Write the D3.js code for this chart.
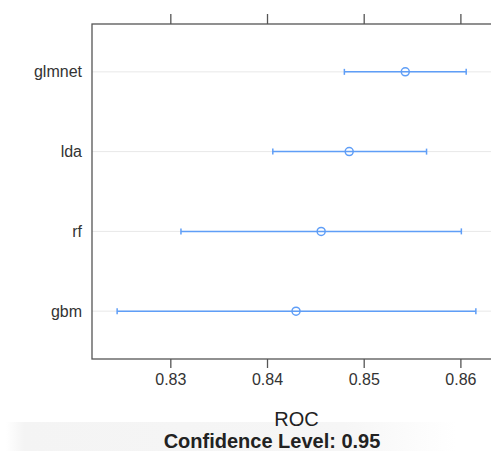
<!DOCTYPE html>
<html>
<head>
<meta charset="utf-8">
<script src="https://cdn.jsdelivr.net/npm/d3@7"></script>
<style>
	html, body { margin: 0; padding: 0; background: #fff; }
	svg { display: block; font-family: "Liberation Sans", Arial, Helvetica, sans-serif; }
</style>
</head>
<body>
<div id="chart"></div>
<script>
// model names, top to bottom
const models = ["glmnet", "lda", "rf", "gbm"];
// ROC estimate and 95% confidence bounds
const rocMean = [0.8543, 0.8485, 0.8456, 0.8430];
const rocLower = [0.8480, 0.8406, 0.8311, 0.8245];
const rocUpper = [0.8606, 0.8565, 0.8601, 0.8616];
const xTicks = [0.83, 0.84, 0.85, 0.86];

const width = 491, height = 451;
const panel = { left: 92, top: 24, right: 501, bottom: 359 };
const blue = "#5f9ef7";

const svg = d3.select("#chart")
	.append("svg")
	.attr("width", width)
	.attr("height", height);

// faint grey band behind the footer text (from the screenshot)
const defs = svg.append("defs");
const grad = defs.append("linearGradient")
	.attr("id", "band");
grad.append("stop").attr("offset", "0%").attr("stop-color", "#ffffff");
grad.append("stop").attr("offset", "4%").attr("stop-color", "#f4f4f4");
grad.append("stop").attr("offset", "75%").attr("stop-color", "#f6f6f6");
grad.append("stop").attr("offset", "100%").attr("stop-color", "#ffffff");
svg.append("rect")
	.attr("x", 6)
	.attr("y", 422)
	.attr("width", 450)
	.attr("height", 29)
	.attr("fill", "url(#band)");

const x = d3.scaleLinear()
	.domain([0.8219, 0.8642])
	.range([panel.left, panel.right]);

const y = d3.scalePoint()
	.domain(models)
	.range([panel.top, panel.bottom])
	.padding(0.6);

const rows = models.map((m, i) => ({ model: m, mean: rocMean[i], lo: rocLower[i], hi: rocUpper[i] }));

// reference lines per row
svg.append("g")
	.selectAll("line")
	.data(models)
	.join("line")
	.attr("x1", panel.left)
	.attr("x2", panel.right)
	.attr("y1", d => y(d))
	.attr("y2", d => y(d))
	.attr("stroke", "#e8e8e8")
	.attr("stroke-width", 1);

// interval lines
const marks = svg.append("g");
marks.selectAll(".ci")
	.data(rows)
	.join("line")
	.attr("class", "ci")
	.attr("x1", d => x(d.lo))
	.attr("x2", d => x(d.hi))
	.attr("y1", d => y(d.model))
	.attr("y2", d => y(d.model))
	.attr("stroke", blue)
	.attr("stroke-width", 1.5);

// end caps
marks.selectAll(".cap")
	.data(rows.flatMap(d => [{ v: d.lo, m: d.model }, { v: d.hi, m: d.model }]))
	.join("line")
	.attr("class", "cap")
	.attr("x1", d => x(d.v))
	.attr("x2", d => x(d.v))
	.attr("y1", d => y(d.m) - 3)
	.attr("y2", d => y(d.m) + 3)
	.attr("stroke", blue)
	.attr("stroke-width", 1.5);

marks.selectAll("circle")
	.data(rows)
	.join("circle")
	.attr("cx", d => x(d.mean))
	.attr("cy", d => y(d.model))
	.attr("r", 4)
	.attr("fill", "none")
	.attr("stroke", blue)
	.attr("stroke-width", 1.5);

// panel box
svg.append("rect")
	.attr("x", panel.left)
	.attr("y", panel.top)
	.attr("width", panel.right - panel.left)
	.attr("height", panel.bottom - panel.top)
	.attr("fill", "none")
	.attr("stroke", "#555")
	.attr("stroke-width", 1.3);

// bottom axis
const xAxis = svg.append("g")
	.attr("transform", `translate(0, ${panel.bottom})`)
	.call(d3.axisBottom(x).tickValues(xTicks).tickSize(9).tickPadding(6).tickFormat(d3.format(".2f")));
xAxis.select(".domain").remove();
xAxis.selectAll("line").attr("stroke", "#555").attr("stroke-width", 1.3);
xAxis.selectAll("text").attr("font-size", 16).attr("fill", "#333").attr("font-family", null);

// top axis: ticks only
const topAxis = svg.append("g")
	.attr("transform", `translate(0, ${panel.top})`)
	.call(d3.axisTop(x).tickValues(xTicks).tickSize(10).tickFormat(""));
topAxis.select(".domain").remove();
topAxis.selectAll("line").attr("stroke", "#555").attr("stroke-width", 1.3);

// left labels, no ticks
const yAxis = svg.append("g")
	.attr("transform", `translate(${panel.left}, 0)`)
	.call(d3.axisLeft(y).tickSize(0).tickPadding(10));
yAxis.select(".domain").remove();
yAxis.selectAll("text").attr("font-size", 16).attr("fill", "#333").attr("font-family", null);

svg.append("text")
	.attr("x", (panel.left + panel.right) / 2)
	.attr("y", 426)
	.attr("text-anchor", "middle")
	.attr("font-size", 20)
	.attr("fill", "#222")
	.text("ROC");

svg.append("text")
	.attr("x", 272)
	.attr("y", 448)
	.attr("text-anchor", "middle")
	.attr("font-size", 20)
	.attr("font-weight", "bold")
	.attr("fill", "#222")
	.text("Confidence Level: 0.95");
</script>
</body>
</html>
